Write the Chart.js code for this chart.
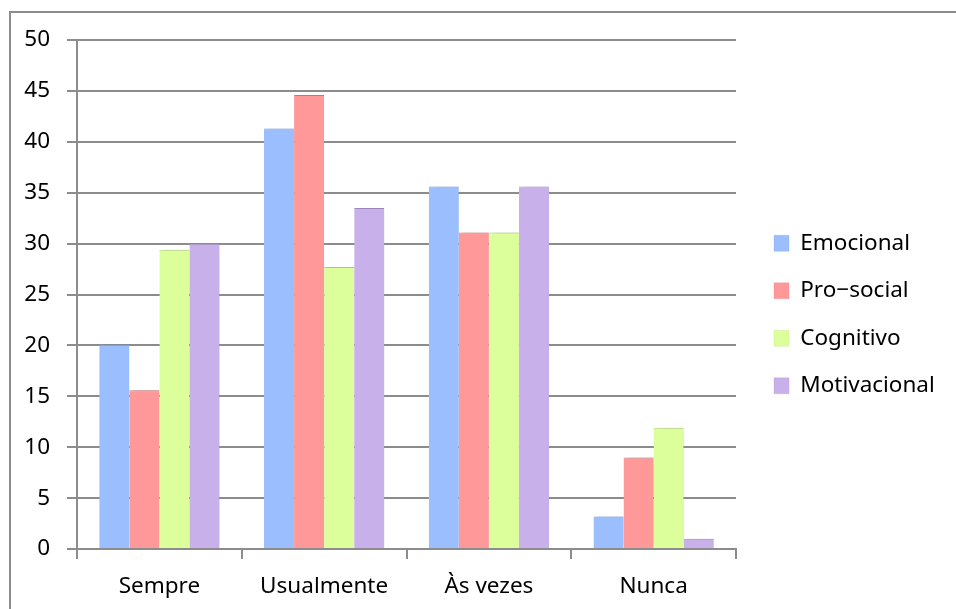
<!DOCTYPE html>
<html>
<head>
<meta charset="utf-8">
<script src="https://cdn.jsdelivr.net/npm/chart.js@4/dist/chart.umd.min.js"></script>
<style>
  html, body { margin: 0; padding: 0; background: #fff; overflow: hidden; }
  #wrap { position: relative; width: 956px; height: 609px; }
  #frame {
    position: absolute; left: 9px; top: 11px; width: 1000px; height: 700px;
    border: 2px solid #8c8c8c; box-sizing: border-box;
  }
  canvas { position: absolute; left: 0; top: 0; }
</style>
</head>
<body>
<div id="wrap">
  <div id="frame"></div>
  <canvas id="chart" width="956" height="609"></canvas>
</div>
<script>
const categories = ['Sempre', 'Usualmente', 'Às vezes', 'Nunca'];
const seriesNames = ['Emocional', 'Pro\u2212social', 'Cognitivo', 'Motivacional'];
const emocional = [20.1, 41.3, 35.6, 3.2];
const proSocial = [15.6, 44.6, 31.1, 9.0];
const cognitivo = [29.4, 27.7, 31.1, 11.9];
const motivacional = [30.0, 33.5, 35.6, 1.0];
const yTicks = [0, 5, 10, 15, 20, 25, 30, 35, 40, 45, 50];

const fills = ['#9bbeff', '#ff9899', '#dcff9b', '#c8b1ea'];
const edges = ['#7c98d8', '#d47a7b', '#b6d67e', '#a48fc6'];
const gridColor = '#8c8c8c';
const font = { family: 'Noto Sans', size: 22.5 };

// soft shadow to the right of the bars
const barShadow = {
    id: 'barShadow',
    beforeDatasetsDraw(chart) {
        const c = chart.ctx;
        c.save();
        c.shadowColor = 'rgba(0,0,0,0.18)';
        c.shadowBlur = 5;
        c.shadowOffsetX = 3;
        c.shadowOffsetY = 0;
    },
    afterDatasetsDraw(chart) {
        chart.ctx.restore();
    }
};

// fixed legend width, then nudge it to where the original sits
const legendPlace = {
    id: 'legendPlace',
    beforeInit(chart) {
        const orig = chart.legend.fit;
        chart.legend.fit = function () {
            orig.call(this);
            this.width = 220;
        };
    },
    afterLayout(chart) {
        const l = chart.legend;
        l.left += 13; l.right += 13;
        l.top -= 10; l.bottom -= 10;
        if (l.adjustHitBoxes) l.adjustHitBoxes();
    }
};

new Chart(document.getElementById('chart'), {
    type: 'bar',
    data: {
        labels: categories,
        datasets: [emocional, proSocial, cognitivo, motivacional].map((vals, i) => ({
            label: seriesNames[i],
            data: vals,
            backgroundColor: fills[i],
            borderColor: edges[i],
            borderWidth: { top: 1, left: 0, right: 0, bottom: 0 },
            borderSkipped: 'start',
            categoryPercentage: 0.73,
            barPercentage: 1
        }))
    },
    options: {
        responsive: false,
        animation: false,
        devicePixelRatio: 1,
        layout: { padding: { left: 21, top: 40, right: 0, bottom: 0 } },
        plugins: {
            legend: {
                position: 'right',
                align: 'center',
                labels: {
                    boxWidth: 15,
                    boxHeight: 16,
                    padding: 25,
                    color: '#000',
                    font: font
                }
            },
            tooltip: { enabled: false }
        },
        scales: {
            x: {
                offset: true,
                grid: {
                    offset: true,
                    drawOnChartArea: false,
                    drawTicks: true,
                    tickLength: 10,
                    color: gridColor,
                    lineWidth: 2
                },
                border: { color: gridColor, width: 2 },
                ticks: { color: '#000', font: font, padding: 14 },
                afterFit(scale) { scale.height = 60; }
            },
            y: {
                min: 0,
                max: 50,
                afterBuildTicks(scale) { scale.ticks = yTicks.map(v => ({ value: v })); },
                grid: {
                    color: gridColor,
                    lineWidth: 2,
                    drawTicks: true,
                    tickLength: 10
                },
                border: { color: gridColor, width: 2 },
                ticks: { color: '#000', font: font, padding: 17 },
                afterFit(scale) { scale.width = 56; }
            }
        }
    },
    plugins: [barShadow, legendPlace]
});
</script>
</body>
</html>
